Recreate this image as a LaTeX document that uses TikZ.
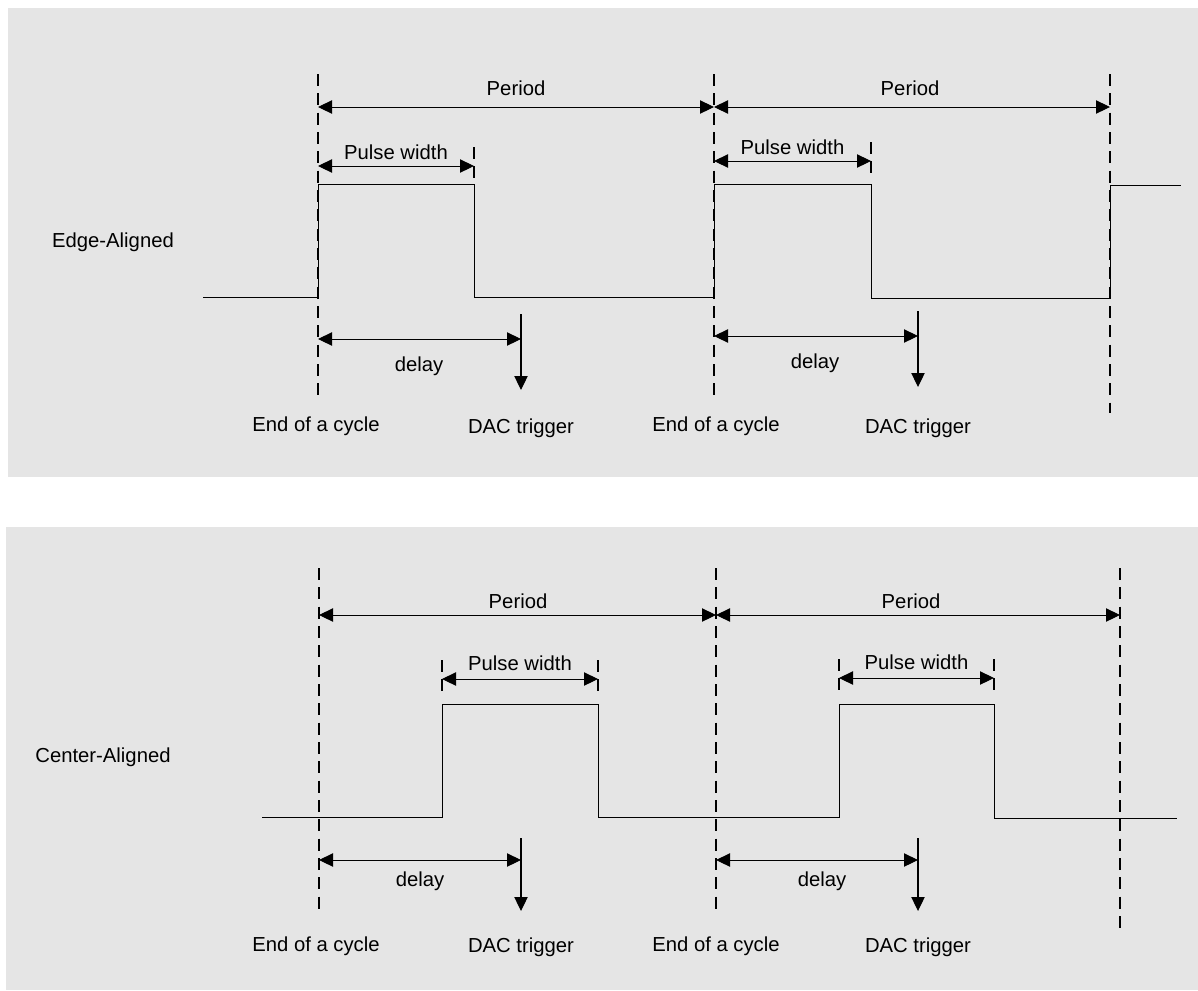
\documentclass[tikz,border=0pt]{standalone}
\usepackage{fontspec}
\setmainfont{Liberation Sans}
\usepackage{xcolor}
\usetikzlibrary{positioning, arrows.meta, calc}
\definecolor{panelGray}{HTML}{E5E5E5}
\tikzset{
  every node/.style={font=\fontsize{15.2}{18}\selectfont, inner sep=0pt},
  wave/.style={line width=0.75pt},
  cycLine/.style={line width=0.9pt, dash pattern=on 9pt off 5.5pt},
  pwTick/.style={cycLine},
  spanArr/.style={{Triangle[length=10.5pt,width=10pt]}-{Triangle[length=10.5pt,width=10pt]}, line width=0.7pt},
  trigArr/.style={-{Triangle[length=10.5pt,width=10pt]}, line width=0.8pt},
}

\begin{document}
\begin{tikzpicture}[x=0.75pt, y=-0.75pt]
  \useasboundingbox (0,0) rectangle (1198,990);
  \fill[panelGray] (8,8) rectangle (1198,477);
  \fill[panelGray] (6,527) rectangle (1198,990);

  % ---------- edge-aligned ----------
  \node (edgeLbl) at (113,242) {Edge-Aligned};
  \foreach \n/\x/\b in {1/318/398, 2/714/398, 3/1110/413} {
    \coordinate (eTop\n) at (\x,74);
    \coordinate (eBot\n) at (\x,\b);
    \draw[cycLine] (eTop\n) -- (eBot\n);
  }
  \draw[wave] (203,297) -- (318,297) -- (318,184) -- (474,184) -- (474,297)
    -- (714,297) -- (714,184) -- (871,184) -- (871,298) -- (1110,298)
    -- (1110,185) -- (1181,185);
  \foreach \n/\xa/\xb/\lx/\xp/\py/\xt/\dy/\ex in
      {1/318/714/516/474/166/521/339/316, 2/714/1110/910/871/161/918/336/716} {
    % period
    \coordinate (ePa\n) at (\xa,107);
    \coordinate (ePb\n) at (\xb,107);
    \draw[spanArr] (ePa\n) -- (ePb\n);
    \node (ePer\n) at (\lx,88) {Period};
    % pulse width
    \coordinate (eWa\n) at (\xa,\py);
    \coordinate (eWb\n) at (\xp,\py);
    \draw[pwTick] (\xp,\py-19) -- (\xp,\py+13);
    \draw[spanArr] (eWa\n) -- (eWb\n);
    \node (eWid\n) at ({(\xa+\xp)/2},\py-14) {Pulse width};
    % delay and trigger
    \coordinate (eDa\n) at (\xa,\dy);
    \coordinate (eDb\n) at (\xt,\dy);
    \coordinate (eTa\n) at (\xt,\dy-25);
    \coordinate (eTb\n) at (\xt,\dy+51);
    \draw[spanArr] (eDa\n) -- (eDb\n);
    \draw[trigArr] (eTa\n) -- (eTb\n);
    \node (eDel\n) at ({\xa+101},\dy+27) {delay};
    \node (eEnd\n) at (\ex,426) {End of a cycle};
    \node (eDac\n) at (\xt,428) {DAC trigger};
  }

  % ---------- center-aligned ----------
  \node (centerLbl) at (103,757) {Center-Aligned};
  \foreach \n/\x/\b in {1/319/915, 2/716/915, 3/1120/930} {
    \coordinate (cTop\n) at (\x,568);
    \coordinate (cBot\n) at (\x,\b);
    \draw[cycLine] (cTop\n) -- (cBot\n);
  }
  \draw[wave] (262,817) -- (442,817) -- (442,704) -- (598,704) -- (598,817)
    -- (839,817) -- (839,704) -- (994,704) -- (994,818) -- (1177,818);
  \foreach \n/\xa/\xb/\lx/\xq/\xp/\py/\xt/\dl/\ex in
      {1/319/716/518/442/598/679/521/420/316, 2/716/1120/911/839/994/678/918/822/716} {
    % period
    \coordinate (cPa\n) at (\xa,615);
    \coordinate (cPb\n) at (\xb,615);
    \draw[spanArr] (cPa\n) -- (cPb\n);
    \node (cPer\n) at (\lx,601) {Period};
    % pulse width
    \coordinate (cWa\n) at (\xq,\py);
    \coordinate (cWb\n) at (\xp,\py);
    \draw[pwTick] (\xq,\py-19) -- (\xq,\py+13);
    \draw[pwTick] (\xp,\py-19) -- (\xp,\py+13);
    \draw[spanArr] (cWa\n) -- (cWb\n);
    \node (cWid\n) at ({(\xq+\xp)/2},\py-16) {Pulse width};
    % delay and trigger
    \coordinate (cDa\n) at (\xa,860);
    \coordinate (cDb\n) at (\xt,860);
    \coordinate (cTa\n) at (\xt,838);
    \coordinate (cTb\n) at (\xt,911);
    \draw[spanArr] (cDa\n) -- (cDb\n);
    \draw[trigArr] (cTa\n) -- (cTb\n);
    \node (cDel\n) at (\dl,881) {delay};
    \node (cEnd\n) at (\ex,946) {End of a cycle};
    \node (cDac\n) at (\xt,947) {DAC trigger};
  }
\end{tikzpicture}
\end{document}
